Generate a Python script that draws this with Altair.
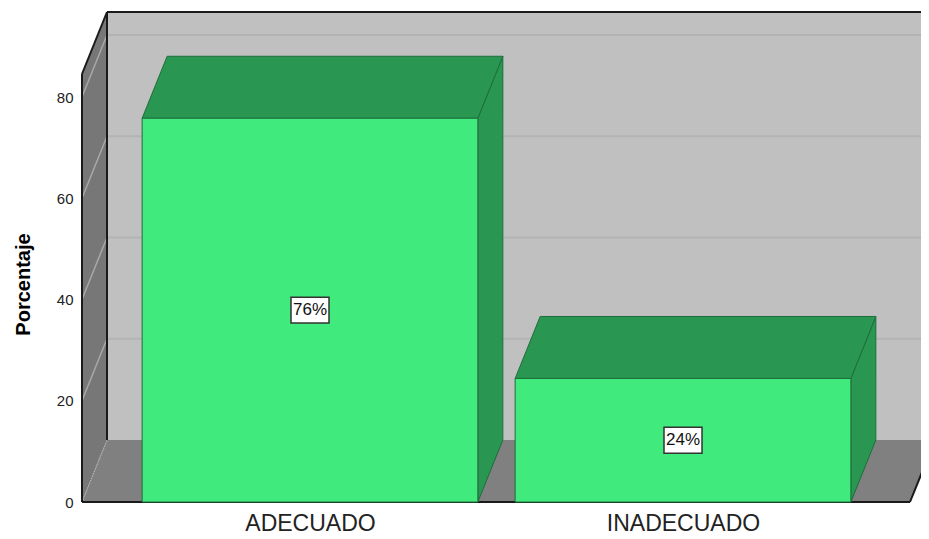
import json
import altair as alt
import pandas as pd

# ---------------- data ----------------
categories = ["ADECUADO", "INADECUADO"]
values = [75.8, 24.4]
value_labels = ["76%", "24%"]
y_ticks = [0, 20, 40, 60, 80]

# ---------------- layout (pixels -> data units) ----------------
W, H = 839, 490
PX_PER_X = 373.0          # pixels between category centres
PX_PER_Y = 5.0625         # pixels per percentage point
X0_PX = 228               # plot left edge to first category centre
DEPTH_X_PX, DEPTH_Y_PX = 25, 62
FRONT_TOP_PX = 428
FLOOR_RIGHT_PX = 828

XMIN = -X0_PX / PX_PER_X
XMAX = XMIN + W / PX_PER_X
YMAX = H / PX_PER_Y
DX = DEPTH_X_PX / PX_PER_X
DY = DEPTH_Y_PX / PX_PER_Y
YTOP = FRONT_TOP_PX / PX_PER_Y
XEND = XMIN + FLOOR_RIGHT_PX / PX_PER_X
BW = 0.9

xs = alt.Scale(domain=[XMIN, XMAX], nice=False, zero=False)
ys = alt.Scale(domain=[0, YMAX], nice=False, zero=False)


def X(f, axis=alt.Undefined):
    return alt.X(f, type="quantitative", scale=xs, axis=axis)


def Y(f, axis=alt.Undefined):
    return alt.Y(f, type="quantitative", scale=ys, axis=axis)


FONT = "Liberation Sans"
label_expr = json.dumps(categories) + "[datum.value]"

x_axis = alt.Axis(values=list(range(len(categories))), labelExpr=label_expr,
                  ticks=False, domain=False, grid=False, labelFontSize=23,
                  labelFont=FONT, labelColor="#222222", labelPadding=10,
                  labelOverlap=False, labelFlush=False, title="")
y_axis = alt.Axis(values=y_ticks, ticks=False, domain=False, grid=False,
                  labelFontSize=15, labelFont=FONT, labelColor="#222222",
                  labelPadding=9, title="Porcentaje", titleFontSize=20,
                  titleFont=FONT, titleFontWeight="bold", titleColor="#000000",
                  titleAngle=270, titleBaseline="bottom", titleAlign="center",
                  titleX=-49, titleY=272)

# back wall
back = alt.Chart(pd.DataFrame({"x": [XMIN + DX], "x2": [XMAX],
                               "y": [DY], "y2": [YTOP + DY]})).mark_rect(
    color="#C0C0C0").encode(x=X("x", x_axis), x2="x2", y=Y("y", y_axis), y2="y2")

# back gridlines
grid_df = pd.DataFrame({"x": XMIN + DX, "x2": XMAX,
                        "y": [t + DY for t in y_ticks[1:]]})
grid = alt.Chart(grid_df).mark_rule(color="#B3B3B3", strokeWidth=2).encode(
    x=X("x"), x2="x2", y=Y("y"))

# side wall
side_df = pd.DataFrame({"x": [XMIN, XMIN + DX], "y": [0, DY],
                        "y2": [YTOP, YTOP + DY]})
side = alt.Chart(side_df).mark_area(color="#777777", orient="vertical").encode(
    x=X("x"), y=Y("y"), y2="y2")

# side wall lines
sl_df = pd.DataFrame({"x": XMIN, "x2": XMIN + DX,
                      "y": y_ticks[1:], "y2": [t + DY for t in y_ticks[1:]]})
side_lines = alt.Chart(sl_df).mark_rule(color="#A8A8A8", strokeWidth=1.5).encode(
    x=X("x"), x2="x2", y=Y("y"), y2="y2")

# floor
floor_df = pd.DataFrame({"y": [0, DY], "x": [XMIN, XMIN + DX],
                         "x2": [XEND, XEND + DX]})
floor = alt.Chart(floor_df).mark_area(color="#808080", orient="horizontal").encode(
    y=Y("y"), x=X("x"), x2="x2")

dotted = alt.Chart(pd.DataFrame({"x": [XMIN], "x2": [XMIN + DX], "y": [0], "y2": [DY]})
                   ).mark_rule(color="#B8B8B8", strokeDash=[1, 1.5], strokeWidth=1.2).encode(
    x=X("x"), x2="x2", y=Y("y"), y2="y2")

# black frame edges
edges_df = pd.DataFrame([
    {"x": XMIN + DX, "x2": XMAX, "y": YTOP + DY, "y2": YTOP + DY},
    {"x": XMIN + DX, "x2": XMIN + DX, "y": DY, "y2": YTOP + DY},
    {"x": XMIN, "x2": XMIN + DX, "y": YTOP, "y2": YTOP + DY},
    {"x": XMIN, "x2": XMIN, "y": 0, "y2": YTOP},
    {"x": XMIN, "x2": XEND, "y": 0, "y2": 0},
    {"x": XEND, "x2": XEND + DX, "y": 0, "y2": DY},
])
edges = alt.Chart(edges_df).mark_rule(color="#1A1A1A", strokeWidth=2).encode(
    x=X("x"), x2="x2", y=Y("y"), y2="y2")

# bars
FRONT = "#41EA7D"
DARK = "#299651"
EDGE = "#1E6E3C"

front_rows, side_rows, top_rows, lab_rows = [], [], [], []
for i, (c, v, lab) in enumerate(zip(categories, values, value_labels)):
    front_rows.append({"bar": c, "x": i - BW / 2, "x2": i + BW / 2, "y": 0, "y2": v})
    side_rows += [{"bar": c, "x": i + BW / 2, "y": 0, "y2": v},
                  {"bar": c, "x": i + BW / 2 + DX, "y": DY, "y2": v + DY}]
    top_rows += [{"bar": c, "y": v, "x": i - BW / 2, "x2": i + BW / 2},
                 {"bar": c, "y": v + DY, "x": i - BW / 2 + DX, "x2": i + BW / 2 + DX}]
    lab_rows.append({"bar": c, "x": i, "y": v / 2, "label": lab})

bar_side = alt.Chart(pd.DataFrame(side_rows)).mark_area(
    color=DARK, stroke=EDGE, strokeWidth=1, orient="vertical").encode(
    x=X("x"), y=Y("y"), y2="y2", detail="bar:N")
bar_top = alt.Chart(pd.DataFrame(top_rows)).mark_area(
    color=DARK, stroke=EDGE, strokeWidth=1, orient="horizontal").encode(
    y=Y("y"), x=X("x"), x2="x2", detail="bar:N")
bar_front = alt.Chart(pd.DataFrame(front_rows)).mark_rect(
    color=FRONT, stroke=EDGE, strokeWidth=1).encode(
    x=X("x"), x2="x2", y=Y("y"), y2="y2")

lab_df = pd.DataFrame(lab_rows)
boxes = alt.Chart(lab_df).mark_point(
    shape="M-1,-0.68L1,-0.68L1,0.68L-1,0.68Z", size=38 * 38, filled=True,
    fill="white", stroke="#333333", strokeWidth=1.5, opacity=1).encode(
    x=X("x"), y=Y("y"))
texts = alt.Chart(lab_df).mark_text(fontSize=17, font=FONT, color="#111111").encode(
    x=X("x"), y=Y("y"), text="label:N")

chart = alt.layer(back, grid, side, side_lines, floor, dotted, edges,
                  bar_side, bar_top, bar_front, boxes, texts).properties(
    width=W, height=H,
    autosize=alt.AutoSizeParams(type="none"),
    padding={"left": 74, "top": 4, "right": 0, "bottom": 33},
    background="white",
).configure_view(stroke=None)

chart.save("out.html", embed_options={"renderer": "svg", "actions": False})
